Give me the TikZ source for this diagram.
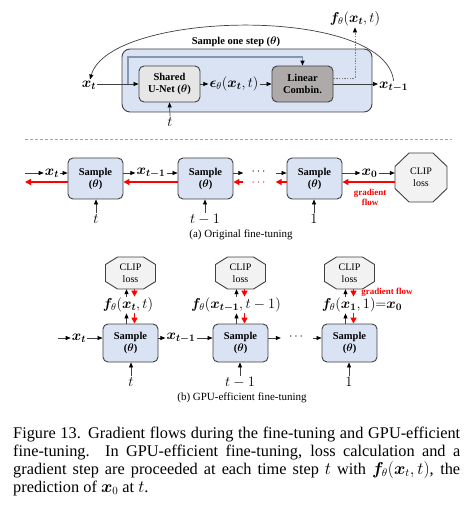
\documentclass[tikz,border=0pt]{standalone}
\usepackage[no-math]{fontspec}
\setmainfont{Liberation Serif}
\usepackage{amsmath,bm}
\usetikzlibrary{arrows.meta,calc}
\definecolor{boxblue}{HTML}{DAE3F3}
\definecolor{unetgray}{HTML}{E7E6E6}
\definecolor{lingray}{HTML}{AEAAAA}
\definecolor{clipgray}{HTML}{F2F2F2}
\definecolor{edge}{HTML}{404040}
\definecolor{skipc}{HTML}{8497B0}
\definecolor{gred}{HTML}{FF0000}
\tikzset{
  sbox/.style={draw=edge, line width=0.9pt, fill=boxblue, rounded corners=5pt, minimum width=55pt, inner sep=0pt, align=center, font=\fontsize{10.5}{12}\selectfont\bfseries},
  lbl/.style={inner sep=1pt, font=\fontsize{14.5}{16}\selectfont},
  tlbl/.style={inner sep=1pt, font=\fontsize{15}{16}\selectfont},
  dotlbl/.style={inner xsep=8pt, inner ysep=0pt, font=\fontsize{13}{14}\selectfont},
  arr/.style={draw=black!75, line width=0.7pt, -{Triangle[length=5pt,width=4pt,black]}},
  rarr/.style={draw=gred, line width=1.8pt, -{Triangle[length=6pt,width=6pt]}},
  skipline/.style={draw=skipc, line width=1.3pt, -{Triangle[length=5pt,width=4pt,black]}},
  dotline/.style={draw=gray, line width=0.7pt, dash pattern=on 1.5pt off 1.2pt, -{Triangle[length=5pt,width=4pt,black]}},
  arcline/.style={draw=black!75, line width=0.7pt, -{Triangle[length=5pt,width=4pt,black]}},
  octo/.style={draw=edge, line width=0.9pt, fill=clipgray},
  cliptext/.style={inner sep=0pt, align=center, font=\fontsize{10}{12}\selectfont},
  gflow/.style={text=gred, font=\fontsize{9}{10}\selectfont\bfseries, align=center, inner sep=0pt},
  subcap/.style={inner sep=0pt, font=\fontsize{11}{13}\selectfont},
  pics/octagon/.style n args={4}{code={
    \path[octo] (-#1/2+#3,-#2/2) -- (#1/2-#3,-#2/2) -- (#1/2,-#2/2+#4) -- (#1/2,#2/2-#4)
      -- (#1/2-#3,#2/2) -- (-#1/2+#3,#2/2) -- (-#1/2,#2/2-#4) -- (-#1/2,-#2/2+#4) -- cycle;}},
}
\begin{document}
\begin{tikzpicture}[x=1pt,y=-1pt]
\useasboundingbox (0,0) rectangle (468,521);

% ---------------- top: one sampling step ----------------
\node[draw=edge, line width=0.9pt, fill=boxblue, rounded corners=8pt, minimum width=250pt, minimum height=63pt] (big) at (247,80.5) {};
\node[font=\fontsize{10.5}{12}\selectfont\bfseries, inner sep=1pt] (title) at (236,42) {Sample one step ($\boldsymbol{\theta}$)};
\node[sbox, fill=unetgray, minimum width=61pt, minimum height=36pt] (unet) at (169.5,84) {Shared\\U-Net ($\boldsymbol{\theta}$)};
\node[sbox, fill=lingray, minimum width=61pt, minimum height=36pt] (lin) at (302.5,84) {Linear\\Combin.};
\node[lbl] (xt) at (89,85) {$\bm{x_t}$};
\node[lbl] (eps) at (234,84) {$\bm{\epsilon}_\theta(\bm{x_t},t)$};
\node[lbl, anchor=west] (xtm1) at (378,87) {$\bm{x_{t-1}}$};
\node[tlbl] (tU) at (170,122) {$t$};
\node[lbl] (fT) at (355,19) {$\bm{f}_\theta(\bm{x_t},t)$};

\coordinate (br) at (128,84);
\coordinate (skiptop) at (200,57);
\draw[arr] (xt.east |- unet.west) -- (unet.west);
\draw[skipline] (br) |- (skiptop) -| (lin.north);
\draw[arr] (unet.east) -- (eps.west);
\draw[arr] (eps.east) -- (lin.west);
\draw[arr] (lin.east) -- (xtm1.west |- lin.east);
\draw[arr] (tU.north) -- (unet.south);
\draw[dotline] ([yshift=6pt]lin.east) -| (fT.south);
\draw[arcline] (xtm1.north) .. controls (385,5) and (110,10) .. ([xshift=1pt]xt.north);

% separator
\draw[gray!70, line width=0.6pt, dash pattern=on 3pt off 2pt] (25,139) -- (452,139);

% ---------------- (a) original fine-tuning ----------------
\node[sbox, minimum height=41pt] (A1) at (95.5,178.5) {Sample\\($\boldsymbol{\theta}$)};
\node[sbox, minimum height=41pt] (A2) at (205.5,178.5) {Sample\\($\boldsymbol{\theta}$)};
\node[sbox, minimum height=41pt] (A3) at (314.5,178.5) {Sample\\($\boldsymbol{\theta}$)};
\pic at (421,177.5) {octagon={52}{49}{14}{13.5}};
\node[cliptext, minimum width=52pt, minimum height=49pt] (clipA) at (421,177.5) {CLIP\\loss};

\coordinate (inA) at (25,173);
\coordinate (outA) at (25,182);
\node[lbl] (xtA) at (52,173) {$\bm{x_t}$};
\node[lbl] (xtm1A) at (151,173) {$\bm{x_{t-1}}$};
\node[dotlbl] (dA) at (259.5,171.5) {$\cdots$};
\node[dotlbl, text=gred] (rdA) at (259.5,182.5) {$\cdots$};
\node[lbl] (x0A) at (369.5,173) {$\bm{x_0}$};

\draw[arr] (inA) -- (xtA.west);
\draw[arr] (xtA.east) -- (A1.west |- xtA.east);
\draw[arr] (A1.east |- xtm1A.west) -- (xtm1A.west);
\draw[arr] (xtm1A.east) -- (A2.west |- xtm1A.east);
\draw[arr] (A2.east |- inA) -- (dA.west |- inA);
\draw[arr] (dA.east |- inA) -- (A3.west |- inA);
\draw[arr] (A3.east |- x0A.west) -- (x0A.west);
\draw[arr] (x0A.east) -- (clipA.west |- x0A.east);

\draw[rarr] (A1.west |- outA) -- (outA);
\draw[rarr] (A2.west |- outA) -- (A1.east |- outA);
\draw[rarr] (rdA.west |- outA) -- (A2.east |- outA);
\draw[rarr] (A3.west |- outA) -- (rdA.east |- outA);
\draw[rarr] (clipA.west |- outA) -- (A3.east |- outA);
\node[gflow] (gfA) at (370,197) {gradient\\flow};

\node[tlbl] (tA1) at (96,219) {$t$};
\node[tlbl] (tA2) at (205,219) {$t-1$};
\node[tlbl] (tA3) at (314,219) {$1$};
\draw[arr] (tA1.north) -- (tA1.north |- A1.south);
\draw[arr] (tA2.north) -- (tA2.north |- A2.south);
\draw[arr] (tA3.north) -- (tA3.north |- A3.south);
\node[subcap] (capA) at (241,235) {(a) Original fine-tuning};

% ---------------- (b) GPU-efficient fine-tuning ----------------
\node[sbox, minimum height=38pt] (B1) at (130.5,343) {Sample\\($\boldsymbol{\theta}$)};
\node[sbox, minimum height=38pt] (B2) at (240.5,343) {Sample\\($\boldsymbol{\theta}$)};
\node[sbox, minimum height=38pt] (B3) at (349.5,343) {Sample\\($\boldsymbol{\theta}$)};
\pic at (130.5,273) {octagon={50}{32}{12}{7.5}};
\pic at (240.5,273) {octagon={50}{32}{12}{7.5}};
\pic at (349.5,273) {octagon={50}{32}{12}{7.5}};
\node[cliptext, minimum width=50pt, minimum height=32pt] (C1) at (130.5,273) {CLIP\\loss};
\node[cliptext, minimum width=50pt, minimum height=32pt] (C2) at (240.5,273) {CLIP\\loss};
\node[cliptext, minimum width=50pt, minimum height=32pt] (C3) at (349.5,273) {CLIP\\loss};
\node[lbl] (F1) at (128,305) {$\bm{f}_\theta(\bm{x_t},t)$};
\node[lbl] (F2) at (236,305) {$\bm{f}_\theta(\bm{x_{t-1}},t-1)$};
\node[lbl] (F3) at (362,305) {$\bm{f}_\theta(\bm{x_1},1){=}\bm{x_0}$};

\foreach \i in {1,2,3} {
  \draw[arr] ([xshift=-4pt]B\i.north) -- ([xshift=-4pt]B\i.north |- F\i.south);
  \draw[arr] ([xshift=-4pt]B\i.north |- F\i.north) -- ([xshift=-4pt]B\i.north |- C\i.south);
  \draw[rarr] ([xshift=4pt]B\i.north |- C\i.south) -- ([xshift=4pt]B\i.north |- F\i.north);
  \draw[rarr] ([xshift=4pt]B\i.north |- F\i.south) -- ([xshift=4pt]B\i.north);
}
\node[gflow] (gfB) at (387,292) {gradient flow};

\coordinate (inB) at (58,338);
\node[lbl] (xtB) at (79,338) {$\bm{x_t}$};
\node[lbl] (xtm1B) at (181,338) {$\bm{x_{t-1}}$};
\node[dotlbl] (dB) at (297,336.5) {$\cdots$};
\draw[arr] (inB) -- (xtB.west);
\draw[arr] (xtB.east) -- (B1.west |- xtB.east);
\draw[arr] (B1.east |- xtm1B.west) -- (xtm1B.west);
\draw[arr] (xtm1B.east) -- (B2.west |- xtm1B.east);
\draw[arr] (B2.east |- inB) -- (dB.west |- inB);
\draw[arr] (dB.east |- inB) -- (B3.west |- inB);

\node[tlbl] (tB1) at (131,382) {$t$};
\node[tlbl] (tB2) at (240,382) {$t-1$};
\node[tlbl] (tB3) at (349,382) {$1$};
\draw[arr] (tB1.north) -- (tB1.north |- B1.south);
\draw[arr] (tB2.north) -- (tB2.north |- B2.south);
\draw[arr] (tB3.north) -- (tB3.north |- B3.south);
\node[subcap] (capB) at (242,398) {(b) GPU-efficient fine-tuning};

% ---------------- caption ----------------
\node[anchor=north west, inner sep=0pt, text width=447pt, align=justify, font=\fontsize{16.3}{17.8}\selectfont] (cap) at (13,427)
{Figure 13. Gradient flows during the fine-tuning and GPU-efficient\linebreak
fine-tuning. In GPU-efficient fine-tuning, loss calculation and a\linebreak
gradient step are proceeded at each time step $t$ with $\bm{f}_\theta(\bm{x}_t,t)$, the\linebreak
prediction of $\bm{x}_0$ at $t$.};
\end{tikzpicture}
\end{document}
